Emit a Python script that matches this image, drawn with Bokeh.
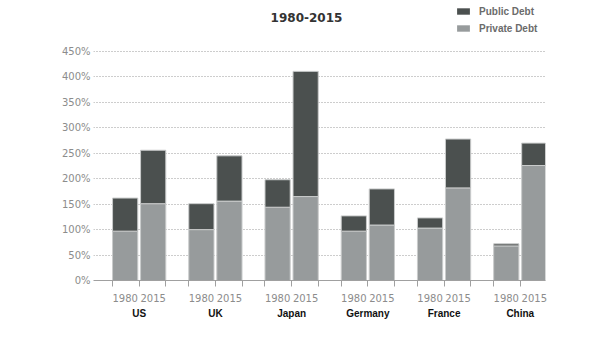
from bokeh.plotting import figure
from bokeh.layouts import column
from bokeh.models import (ColumnDataSource, Range1d, LinearAxis, FixedTicker,
                          PrintfTickFormatter, Legend, LegendItem)
from bokeh.core.properties import value
from bokeh.embed import file_html
from bokeh.resources import INLINE

# ---- data (debt as % of GDP) ----
countries = ["US", "UK", "Japan", "Germany", "France", "China"]
years = ["1980", "2015"]
private_1980 = [97, 100, 144, 97, 103, 68]
public_1980 = [65, 51, 54, 30, 20, 4]
private_2015 = [151, 156, 165, 109, 182, 226]
public_2015 = [105, 89, 246, 71, 96, 44]
y_ticks = [0, 50, 100, 150, 200, 250, 300, 350, 400, 450]
subtitle = "1980-2015"
series_names = ["Public Debt", "Private Debt"]

# ---- layout helpers ----
GROUP_STEP = 2.72   # distance between country groups (in bar slots)
BAR_W = 0.9
DARK = "#4b504f"
LIGHT = "#979b9c"
HEADER_H = 42
LEFT, RIGHT = 93, 71

xs, priv, pub, yr = [], [], [], []
for g, c in enumerate(countries):
    for j, (pv, pb) in enumerate([(private_1980[g], public_1980[g]),
                                  (private_2015[g], public_2015[g])]):
        xs.append(g * GROUP_STEP + j)
        priv.append(pv)
        pub.append(pb)
        yr.append(years[j])

src = ColumnDataSource(dict(x=xs, private=priv, public=pub))

# ---- header (subtitle + legend); x in page pixels ----
h = figure(width=616, height=HEADER_H, output_backend="svg", toolbar_location=None,
           x_range=Range1d(LEFT, 616 - RIGHT), y_range=Range1d(HEADER_H, 0),
           x_axis_type=None, y_axis_type=None, title_location=None,
           min_border_left=LEFT, min_border_right=RIGHT, min_border_top=0, min_border_bottom=0)
h.outline_line_color = None
h.text(x=[306], y=[17], text=[subtitle], text_align="center", text_baseline="middle",
       text_font=value("DejaVu Sans"), text_font_style="bold", text_font_size="12px",
       text_color="#333333")
# legend proxies: zero-size, out of view
r_pub = h.rect(x=[0], y=[0], width=0, height=0, fill_color=DARK, line_color=None)
r_priv = h.rect(x=[0], y=[0], width=0, height=0, fill_color=LIGHT, line_color=None)
legend = Legend(items=[LegendItem(label=series_names[0], renderers=[r_pub]),
                       LegendItem(label=series_names[1], renderers=[r_priv])],
                location=(455 - LEFT, HEADER_H - 34))
legend.glyph_width = 16
legend.glyph_height = 8
legend.label_height = 12
legend.label_standoff = 8
legend.spacing = 5
legend.padding = 0
legend.margin = 0
legend.border_line_color = None
legend.background_fill_alpha = 0
legend.label_text_font = "Liberation Sans"
legend.label_text_font_style = "bold"
legend.label_text_font_size = "10px"
legend.label_text_color = "#6b6b6b"
h.add_layout(legend)

# ---- main chart ----
p = figure(width=616, height=346 - HEADER_H, output_backend="svg", toolbar_location=None,
           x_range=Range1d(-1.13, 15.0), y_range=Range1d(0, 452),
           x_axis_type=None, title_location=None,
           min_border_left=LEFT, min_border_right=RIGHT,
           min_border_top=50 - HEADER_H, min_border_bottom=66)
p.outline_line_color = None

rs = p.vbar_stack(["private", "public"], x="x", width=BAR_W, source=src,
                  fill_color=[LIGHT, DARK], line_color="#c9cbcb", line_width=1)

ya = p.yaxis[0]
ya.ticker = FixedTicker(ticks=y_ticks)
ya.formatter = PrintfTickFormatter(format="%d%%")
ya.axis_line_color = None
ya.major_tick_line_color = None
ya.minor_tick_line_color = None
ya.major_tick_out = 0
ya.major_tick_in = 0
ya.major_label_standoff = 3
ya.major_label_text_font = "DejaVu Sans"
ya.major_label_text_font_size = "10px"
ya.major_label_text_color = "#8c8c8c"

p.ygrid.ticker = FixedTicker(ticks=y_ticks[1:])
p.ygrid.grid_line_color = "#9a9a9a"
p.ygrid.grid_line_dash = "1 2"
p.ygrid.grid_line_width = 1

# x axis: ticks at bar edges
edges = []
for g in range(len(countries)):
    x0 = g * GROUP_STEP
    edges += [x0 - BAR_W / 2, x0 + 0.5, x0 + 1 + BAR_W / 2]
ax_ticks = LinearAxis(ticker=FixedTicker(ticks=edges))
ax_ticks.axis_line_color = "#a0a0a0"
ax_ticks.major_tick_line_color = "#a0a0a0"
ax_ticks.major_tick_in = 0
ax_ticks.major_tick_out = 6
ax_ticks.minor_tick_line_color = None
ax_ticks.major_label_text_font_size = "0px"
ax_ticks.major_label_standoff = 0
ax_ticks.major_label_overrides = {e: "" for e in edges}
p.add_layout(ax_ticks, "below")

# year labels
ax_years = LinearAxis(ticker=FixedTicker(ticks=xs))
ax_years.major_label_overrides = {x: y for x, y in zip(xs, yr)}
ax_years.axis_line_color = None
ax_years.major_tick_line_color = None
ax_years.minor_tick_line_color = None
ax_years.major_tick_out = 0
ax_years.major_tick_in = 0
ax_years.major_label_standoff = 7
ax_years.major_label_text_font = "DejaVu Sans"
ax_years.major_label_text_font_size = "10px"
ax_years.major_label_text_color = "#8c8c8c"
p.add_layout(ax_years, "below")

# country labels
centers = [g * GROUP_STEP + 0.5 for g in range(len(countries))]
ax_c = LinearAxis(ticker=FixedTicker(ticks=centers))
ax_c.major_label_overrides = {x: c for x, c in zip(centers, countries)}
ax_c.axis_line_color = None
ax_c.major_tick_line_color = None
ax_c.minor_tick_line_color = None
ax_c.major_tick_out = 0
ax_c.major_tick_in = 0
ax_c.major_label_standoff = 3
ax_c.major_label_text_font = "Liberation Sans"
ax_c.major_label_text_font_style = "bold"
ax_c.major_label_text_font_size = "10px"
ax_c.major_label_text_color = "#111111"
p.add_layout(ax_c, "below")

layout = column(h, p, spacing=0)
open("out.html", "w").write(file_html(layout, INLINE))
